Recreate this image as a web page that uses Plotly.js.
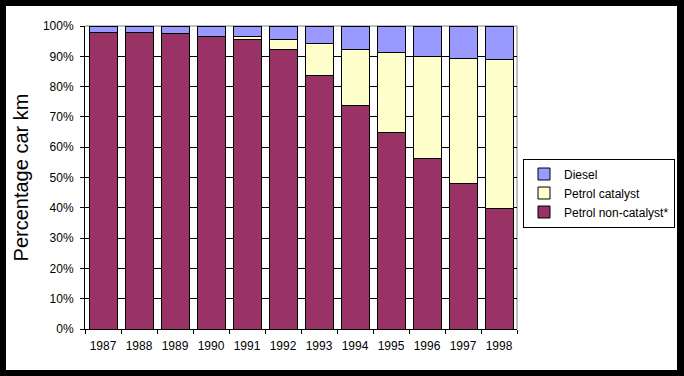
<!DOCTYPE html>
<html>
<head>
<meta charset="utf-8">
<script src="https://cdn.plot.ly/plotly-3.0.1.min.js"></script>
<style>html,body{margin:0;padding:0;background:#000;}#chart{width:684px;height:376px;}</style>
</head>
<body>
<div id="chart"></div>
<script>
const years = ['1987','1988','1989','1990','1991','1992','1993','1994','1995','1996','1997','1998'];
const petrolNonCatalyst = [98.0, 97.7, 97.4, 96.7, 95.7, 92.4, 83.8, 73.9, 64.7, 56.4, 48.0, 39.8];
const petrolCatalyst    = [0.0, 0.0, 0.0, 0.0, 0.7, 3.0, 10.3, 18.5, 26.4, 33.7, 41.4, 49.0];
const diesel            = [2.0, 2.3, 2.6, 3.3, 3.6, 4.6, 5.9, 7.6, 8.9, 9.9, 10.6, 11.2];
const yTicks = [0,10,20,30,40,50,60,70,80,90,100];
const yTickLabels = ['0%','10%','20%','30%','40%','50%','60%','70%','80%','90%','100%'];

const font = 'Liberation Sans, Arial, sans-serif';
const line = {color:'#000000', width:1};
const traces = [
  {type:'bar', name:'Petrol non-catalyst*', x:years, y:petrolNonCatalyst, marker:{color:'#993366', line:line}},
  {type:'bar', name:'Petrol catalyst', x:years, y:petrolCatalyst, marker:{color:'#FFFFCC', line:line}},
  {type:'bar', name:'Diesel', x:years, y:diesel, marker:{color:'#9999FF', line:line}}
];

const L = 85, R = 517, T = 26, B = 329, W = 684, H = 376;
const pw = R - L, ph = B - T;
const px = v => (v - L) / pw;
const py = v => (B - v) / ph;

const layout = {
  width: W, height: H,
  margin: {l: L, r: W - R, t: T, b: H - B, pad: 0, autoexpand: false},
  paper_bgcolor: '#000000',
  plot_bgcolor: '#FFFFFF',
  barmode: 'stack',
  bargap: 0.222,
  font: {family: font, size: 12, color: '#000000'},
  showlegend: true,
  legend: {
    x: px(675), y: py(193), xanchor: 'right', yanchor: 'middle',
    bgcolor: '#FFFFFF', bordercolor: '#000000', borderwidth: 1,
    font: {family: font, size: 12, color: '#000000'},
    traceorder: 'reversed', itemwidth: 30, tracegroupgap: 0
  },
  xaxis: {
    type: 'category', showgrid: false, showline: true, linecolor: '#000000', linewidth: 1,
    ticks: 'outside', tickson: 'boundaries', ticklen: 4, tickcolor: '#000000', tickangle: 0,
    ticklabelstandoff: 6,
    tickfont: {family: font, size: 12, color: '#000000'}, fixedrange: true
  },
  yaxis: {
    range: [0, 100], tickvals: yTicks, ticktext: yTickLabels,
    showgrid: true, gridcolor: '#000000', gridwidth: 1, zeroline: false,
    showline: true, linecolor: '#000000', linewidth: 1,
    ticks: 'outside', ticklen: 4, tickcolor: '#000000',
    ticklabelstandoff: 4,
    tickfont: {family: font, size: 12, color: '#000000'},
    title: {text: 'Percentage car km', font: {family: font, size: 20, color: '#000000'}, standoff: 8},
    fixedrange: true
  },
  shapes: [
    {type:'rect', xref:'paper', yref:'paper', x0: px(6), x1: px(677), y0: py(370), y1: py(6),
     fillcolor:'#FFFFFF', line:{width:0}, layer:'below'},
    {type:'line', xref:'paper', yref:'paper', x0:0, x1:1, y0:1, y1:1, line:{color:'#808080', width:1}, layer:'between'},
    {type:'line', xref:'paper', yref:'paper', x0:1, x1:1, y0:0, y1:1, line:{color:'#808080', width:1}, layer:'between'}
  ]
};

Plotly.newPlot('chart', traces, layout, {displayModeBar: false, staticPlot: true});
</script>
</body>
</html>
